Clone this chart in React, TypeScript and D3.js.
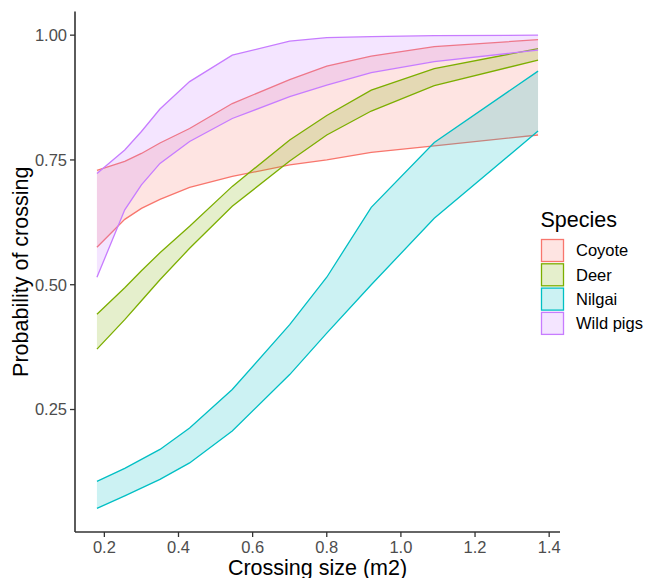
import { useEffect } from 'react';
import * as d3 from 'd3';

// crossing sizes (m2) where the model was evaluated
const sizes = [0.18, 0.255, 0.30, 0.35, 0.43, 0.545, 0.70, 0.80, 0.92, 1.09, 1.37];

const species = ['Coyote', 'Deer', 'Nilgai', 'Wild pigs'];

const coyoteLow = [0.575, 0.631, 0.653, 0.671, 0.695, 0.717, 0.740, 0.750, 0.765, 0.778, 0.800];
const coyoteHigh = [0.729, 0.747, 0.763, 0.784, 0.813, 0.863, 0.911, 0.938, 0.958, 0.977, 0.991];

const deerLow = [0.371, 0.430, 0.468, 0.510, 0.573, 0.657, 0.748, 0.800, 0.848, 0.899, 0.950];
const deerHigh = [0.441, 0.494, 0.528, 0.564, 0.617, 0.697, 0.790, 0.839, 0.890, 0.933, 0.973];

const nilgaiSizes = [0.18, 0.255, 0.35, 0.43, 0.545, 0.70, 0.80, 0.92, 1.09, 1.37];
const nilgaiLow = [0.052, 0.077, 0.110, 0.143, 0.207, 0.320, 0.403, 0.500, 0.633, 0.808];
const nilgaiHigh = [0.106, 0.132, 0.170, 0.213, 0.290, 0.420, 0.515, 0.655, 0.785, 0.928];

const pigsLow = [0.515, 0.650, 0.700, 0.743, 0.787, 0.833, 0.877, 0.900, 0.925, 0.947, 0.970];
const pigsHigh = [0.723, 0.770, 0.807, 0.852, 0.907, 0.960, 0.988, 0.995, 0.997, 0.999, 1.000];

const colors = ['#F8766D', '#7CAE00', '#00BFC4', '#C77CFF'];

const xTicks = [0.2, 0.4, 0.6, 0.8, 1.0, 1.2, 1.4];
const yTicks = [0.25, 0.5, 0.75, 1.0];

const App = () => {
  useEffect(() => {
    document.body.style.margin = '0';
  }, []);

  const width = 647;
  const height = 578;
  const left = 75, right = 560, top = 11.5, bottom = 532;

  const x = d3.scaleLinear().domain([0.1208, 1.4292]).range([left, right]);
  const y = d3.scaleLinear().domain([0.0046, 1.0474]).range([bottom, top]);

  const bands = [
    { xs: sizes, lo: coyoteLow, hi: coyoteHigh },
    { xs: sizes, lo: deerLow, hi: deerHigh },
    { xs: nilgaiSizes, lo: nilgaiLow, hi: nilgaiHigh },
    { xs: sizes, lo: pigsLow, hi: pigsHigh },
  ];

  const font = 'Liberation Sans, Arial, sans-serif';

  return (
    <svg width={width} height={height} style={{ display: 'block' }} fontFamily={font}>
      <rect width={width} height={height} fill="white" />
      {bands.map((b, k) => {
        const idx = b.xs.map((_, i) => i);
        const fillPath = d3.area<number>()
          .x(i => x(b.xs[i]))
          .y0(i => y(b.lo[i]))
          .y1(i => y(b.hi[i]))(idx);
        const lineLo = d3.line<number>().x(i => x(b.xs[i])).y(i => y(b.lo[i]))(idx);
        const lineHi = d3.line<number>().x(i => x(b.xs[i])).y(i => y(b.hi[i]))(idx);
        return (
          <g key={species[k]}>
            <path d={fillPath ?? ''} fill={colors[k]} fillOpacity={0.2} stroke="none" />
            <path d={lineHi ?? ''} fill="none" stroke={colors[k]} strokeWidth={1.3} />
            <path d={lineLo ?? ''} fill="none" stroke={colors[k]} strokeWidth={1.3} />
          </g>
        );
      })}

      {/* axes */}
      <line x1={left} x2={left} y1={top} y2={bottom} stroke="#333" strokeWidth={1.6} />
      <line x1={left} x2={right} y1={bottom} y2={bottom} stroke="#333" strokeWidth={1.6} />
      {yTicks.map(t => (
        <g key={'y' + t}>
          <line x1={left - 5} x2={left} y1={y(t)} y2={y(t)} stroke="#333" strokeWidth={1.3} />
          <text x={left - 8} y={y(t)} dy="0.35em" textAnchor="end" fontSize={16.5} fill="#4D4D4D">
            {t.toFixed(2)}
          </text>
        </g>
      ))}
      {xTicks.map(t => (
        <g key={'x' + t}>
          <line x1={x(t)} x2={x(t)} y1={bottom} y2={bottom + 5} stroke="#333" strokeWidth={1.3} />
          <text x={x(t)} y={553} textAnchor="middle" fontSize={16.5} fill="#4D4D4D">
            {t.toFixed(1)}
          </text>
        </g>
      ))}

      <text x={(left + right) / 2} y={575} textAnchor="middle" fontSize={21.5} fill="black">
        Crossing size (m2)
      </text>
      <text transform={`translate(28,${(top + bottom) / 2}) rotate(-90)`} textAnchor="middle" fontSize={21.5} fill="black">
        Probability of crossing
      </text>

      {/* legend */}
      <text x={540.5} y={226.5} fontSize={21.5} fill="black">Species</text>
      {species.map((s, k) => (
        <g key={'lg' + s} transform={`translate(541.5,${239.5 + k * 24.3})`}>
          <rect width={22} height={22} fill="white" />
          <rect width={22} height={22} fill={colors[k]} fillOpacity={0.2} stroke={colors[k]} strokeWidth={1.3} />
          <text x={34.5} y={11} dy="0.35em" fontSize={16.5} fill="black">{s}</text>
        </g>
      ))}
    </svg>
  );
};

export default App;
